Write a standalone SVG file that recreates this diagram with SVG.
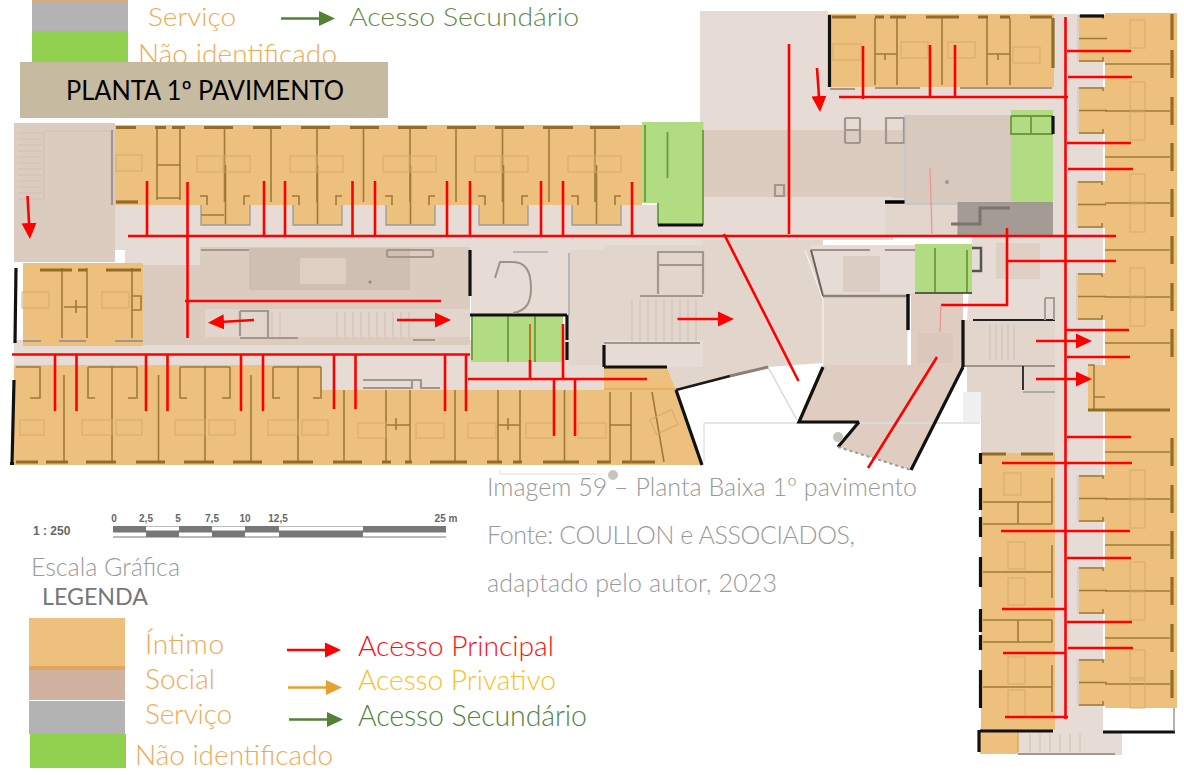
<svg xmlns="http://www.w3.org/2000/svg" xmlns:xlink="http://www.w3.org/1999/xlink" width="1184" height="775" viewBox="0 0 1184 775">
<style>
.i{fill:#edc07e}.s1{fill:#e6dcd5}.s2{fill:#e2d5cb}.s3{fill:#dccbbf}.s4{fill:#d8c9be}.g{fill:#b1dc82}
.w{stroke:#a07a38;stroke-width:1.600;fill:none}.W{stroke:#936c28;stroke-width:3.200;fill:none}.f{stroke:#d3a969;stroke-width:.9;fill:none}
.k{stroke:#111;stroke-width:3.200;fill:none}.q{stroke:#a3968c;stroke-width:2.200;fill:none}.q2{stroke:#cdc0b6;stroke-width:1;fill:none}
.gw{stroke:#6d9a3c;stroke-width:1.800;fill:none}
.r{stroke:#f00;stroke-width:2.600;fill:none}
.a{stroke:#f00;stroke-width:2.600;fill:none;marker-end:url(#mr)}
text{font-family:"Lato","Open Sans","Liberation Sans",sans-serif;font-weight:300}
.o{fill:#eeaa55;font-size:28px}.gr{fill:#999;font-size:25px}
.sc{font-family:"Liberation Sans",sans-serif;font-weight:700;font-size:10px;fill:#666}
</style>
<defs>
<marker id="mr" markerUnits="userSpaceOnUse" markerWidth="18" markerHeight="18" refX="8" refY="9" orient="auto"><path d="M0 1.500L16 9L0 16.500z" fill="#f00"/></marker>
<marker id="mo" markerUnits="userSpaceOnUse" markerWidth="18" markerHeight="18" refX="8" refY="9" orient="auto"><path d="M0 1.500L16 9L0 16.500z" fill="#e8a02f"/></marker>
<marker id="mg" markerUnits="userSpaceOnUse" markerWidth="18" markerHeight="18" refX="8" refY="9" orient="auto"><path d="M0 1.500L16 9L0 16.500z" fill="#548235"/></marker>
<g id="alc"><path class="i" d="M0 0h49v20H0z"/><path d="M0 0v20h49V0" stroke="#9a9a9a" stroke-width="1.300" fill="none"/><path class="w" d="M-1 -9h7v9M49 -9h-6v9M24.500 -40V19"/></g>
<g id="bed"><rect class="f" x="0" y="0" width="26" height="16"/><rect class="f" x="27" y="0" width="26" height="16"/></g>
<g id="vbed"><rect class="f" x="1130" y="-29" width="15" height="28"/><rect class="f" x="1130" y="1" width="15" height="28"/></g>
<g id="rw"><path class="w" d="M1105 0H1170"/><path class="W" d="M1172 -14V14" stroke-width="4"/></g>
<g id="rb"><path class="i" d="M0 0h28v47H0z"/><path class="w" d="M0 1h24v3M0 46h24v-4M0 23.500h28"/><path class="q2" d="M-1 0v47"/></g>
</defs>
<rect width="1184" height="775" fill="#fff"/>

<g id="legenda-superior">
<rect x="32" y="0" width="96" height="31" fill="#b3b3b3"/><rect x="32" y="0" width="96" height="1" fill="#e0a868"/>
<rect x="32" y="31" width="96" height="34" fill="#92d14f"/>
<text x="148" y="26" fill="#eeaa55" font-size="26" textLength="88" lengthAdjust="spacingAndGlyphs">Serviço</text>
<text x="138" y="64" class="o" textLength="199">Não identificado</text>
<text x="349" y="26" font-size="26" fill="#5f8c49" textLength="230" lengthAdjust="spacingAndGlyphs">Acesso Secundário</text>
<path d="M281 18.500H327" stroke="#548235" stroke-width="2.600" marker-end="url(#mg)"/>
<rect x="20" y="62" width="368" height="56" fill="#c6baa0"/>
<text x="66" y="100" font-size="26" fill="#000" style="font-weight:400" textLength="278" lengthAdjust="spacingAndGlyphs">PLANTA 1º PAVIMENTO</text>
</g>

<g id="planta-social">
<path class="s1" d="M700 11H828V87H1054V14H1077V732H1122V755H1018V732H1055V453H981V392H967V320L972 236H890V240H703V130H700z"/>
<rect class="s1" x="115" y="205" width="590" height="45"/>
<rect class="s1" x="125" y="245" width="80" height="22"/>
<rect class="s1" x="14" y="340" width="460" height="25"/>
<rect class="s1" x="321" y="365" width="283" height="25"/>
<rect class="s1" x="470" y="340" width="134" height="50"/>
<rect class="s1" x="1054" y="14" width="49" height="718"/>
<rect class="s3" x="14" y="123" width="101" height="139"/>
<path class="q2" d="M18 133H42M18 139H42M18 145H42M18 151H42M18 157H42M18 163H42M18 169H42M18 175H42M18 181H42M18 187H42M18 193H42M18 199H42M44 131V200M44 131H112"/>
<rect class="s3" x="143" y="265" width="60" height="80"/>
<rect class="s3" x="200" y="247" width="270" height="98"/>
<rect x="249" y="248" width="161" height="42" fill="#cfbeb2"/>
<rect x="300" y="258" width="46" height="26" fill="#dfcfc3"/>
<rect class="s2" x="205" y="309" width="265" height="28"/>
<rect class="s1" x="471" y="248" width="98" height="67"/>
<rect class="s2" x="569" y="250" width="40" height="115"/>
<path class="s2" d="M604 245H703V342H604z"/>
<rect class="s1" x="604" y="340" width="100" height="27"/>
<path class="s2" d="M703 240H823V363L768 367L676 390L667 367H703z"/>
<rect class="s3" x="703" y="130" width="202" height="68"/>
<rect class="s1" x="703" y="197" width="190" height="43"/>
<rect class="s4" x="905" y="115" width="106" height="90"/>
<rect class="s2" x="885" y="205" width="75" height="31"/>
<path class="s1" d="M810 245H915V296H823z"/>
<rect x="843" y="256" width="37" height="36" fill="#dccdc2"/>
<path d="M823 367L799 422H859L838 447L911 470L963 367V293H911V365H823z" fill="#dfcdc1"/>
<rect class="s2" x="823" y="296" width="85" height="69"/>
<rect x="918" y="333" width="35" height="30" fill="#dbc8bc"/>
<rect class="s1" x="972" y="236" width="83" height="84"/>
<rect x="996" y="243" width="44" height="36" fill="#dfd0c6"/>
<rect class="s2" x="963" y="320" width="92" height="45"/>
<rect class="s2" x="967" y="365" width="88" height="28"/>
<rect class="s2" x="981" y="392" width="74" height="61"/>
<rect x="963" y="392" width="18" height="30" fill="#f0f0f0"/>
<path d="M704 423H980" stroke="#ddd" stroke-width="1.500"/>
<path d="M704 423V462" stroke="#e4e4e4" stroke-width="1.500"/>
<path d="M768 367L797 420" stroke="#d8d8d8" stroke-width="1.500"/>
<path d="M500 470V474H597" stroke="#ddd" fill="none"/>
<rect x="1018" y="732" width="104" height="23" fill="#e6dcd5"/>
<path class="q2" d="M1030 734V752M1040 734V752M1050 734V752M1060 734V752M1070 734V752M1080 734V752"/>
<path class="q" d="M1018 754H1115"/>
</g>

<g id="planta-intimo">
<path class="i" d="M115 125H642V205H115z"/>
<use xlink:href="#alc" x="201" y="205"/><use xlink:href="#alc" x="293" y="205"/><use xlink:href="#alc" x="386" y="205"/><use xlink:href="#alc" x="479" y="205"/><use xlink:href="#alc" x="572" y="205"/>
<rect class="i" x="23" y="263" width="120" height="83"/>
<path class="i" d="M14 365H321V390H604V367H667L676 390L702 465H14z"/>
<rect class="i" x="828" y="14" width="226" height="73"/>
<rect class="i" x="1105" y="13" width="72" height="695"/>
<use xlink:href="#rb" x="1079" y="15"/><use xlink:href="#rb" x="1079" y="87"/><use xlink:href="#rb" x="1078" y="181"/><use xlink:href="#rb" x="1078" y="273"/><use xlink:href="#rb" x="1079" y="475"/><use xlink:href="#rb" x="1079" y="567"/><use xlink:href="#rb" x="1079" y="659"/>
<path class="i" d="M1088 365H1107V410H1088z"/>
<path class="w" d="M1088 365h6v45h-6M1094 397h11M1088 410h20"/>
<rect class="i" x="981" y="453" width="74" height="277"/>
<rect class="i" x="980" y="730" width="38" height="24"/>
<path d="M980 730H1018V752" stroke="#e0a85a" stroke-width="1.500" fill="none"/>
<path class="k" d="M979 730V752" stroke-width="2.500"/>

<path class="w" d="M224.500 128V202M271 128V202M317 128V202M363.500 128V202M410 128V202M456 128V202M502.500 128V202M549 128V202M595 128V202M157 128V200M180 128V200M157 165H180M157 198H180M201 215H224"/>
<path class="W" d="M116 127.500h20M155 127.500h11M172 127.500h13M204 127.500h29M253 127.500h28M301 127.500h29M350 127.500h29M398 127.500h29M447 127.500h29M495 127.500h29M543 127.500h30M590 127.500h30"/>
<path class="W" d="M116 202h22" stroke-width="2.500"/>
<path class="q" d="M112 130V205" stroke-width="4" stroke="#9b8a7e"/>
<use xlink:href="#bed" x="197" y="156"/><use xlink:href="#bed" x="290" y="156"/><use xlink:href="#bed" x="383" y="156"/><use xlink:href="#bed" x="475" y="156"/><use xlink:href="#bed" x="568" y="156"/>
<rect class="f" x="116" y="155" width="26" height="16"/>
<path class="w" d="M62 268V338M87 268V338M132 268V338M64 307H87M76 300V313M132 296h9v14h-9"/>
<path class="W" d="M40 270h32M78 270h9M106 270h35"/>
<path class="q" d="M23 341h18M59 341h27M115 341h28" stroke-width="2"/>
<rect class="f" x="22" y="292" width="27" height="16"/><rect class="f" x="102" y="292" width="27" height="16"/>
<path class="k" d="M16 268L15 343" stroke-width="3.500"/>

<path class="w" d="M64 375V463M112 366V463M158.500 375V463M205 366V463M251 375V463M298 366V463M344 390V463M386 390V463M410 390V463M455 390V463M498 390V463M520 390V463M564.500 390V463M386 425H410M498 425H520M396 418V430M508 418V430"/>
<path class="w" d="M16 367H40V398H30M88 367H112M88 367V398H95M137 367H112M137 367V398H128M180 367H205M180 367V398H187M230 367H205M230 367V398H222M273 367H298M273 367V398H280M321 367H298M321 367V398H313"/>
<path class="W" d="M16 462H38M46 462H68M86 462H116M136 462H165M184 462H214M233 462H262M283 462H313M333 462H362M382 462H391M405 462H412M430 462H467M487 462H502M513 462H522M543 462H579M597 462H611M622 462H655"/>
<rect class="f" x="20" y="420" width="24" height="15"/><rect class="f" x="82" y="420" width="30" height="15"/><rect class="f" x="116" y="420" width="26" height="15"/><rect class="f" x="175" y="420" width="30" height="15"/><rect class="f" x="209" y="420" width="26" height="15"/><rect class="f" x="268" y="420" width="30" height="15"/><rect class="f" x="302" y="420" width="26" height="15"/><rect class="f" x="358" y="423" width="28" height="15"/><rect class="f" x="416" y="423" width="28" height="15"/><rect class="f" x="468" y="423" width="28" height="15"/><rect class="f" x="526" y="423" width="28" height="15"/><rect class="f" x="578" y="423" width="28" height="15"/>
<path class="w" d="M610 392V463M631 392V463M610 425H631M652 392L664 462"/>
<rect class="f" x="652" y="414" width="24" height="16" transform="rotate(-25 664 422)"/>
<path d="M604 389H676" stroke="#e0a040" stroke-width="1"/>
<path class="k" d="M14 380L12 465M10 463.500H14" stroke-width="3.500"/>

<path class="w" d="M875 18V85M897 18V85M942 18V85M987 18V85M1010 18V85M875 54H897M987 54H1010M885 54V60M998 54V60"/>
<path class="W" d="M1053 18V68M832 17h24M875 17h9M890 17h16M926 17h33M978 17h10M1000 17h10M1030 17h22"/>
<path class="q" d="M830 89H855M875 88H920M960 88H1052" stroke="#cfc0b2"/>
<path class="k" d="M829.500 15V87"/>
<rect class="f" x="833" y="44" width="28" height="16"/><rect class="f" x="901" y="42" width="27" height="16"/><rect class="f" x="948" y="42" width="27" height="16"/><rect class="f" x="1013" y="47" width="27" height="16"/>

<use xlink:href="#rw" y="64"/><use xlink:href="#rw" y="111"/><use xlink:href="#rw" y="157"/><use xlink:href="#rw" y="203"/><use xlink:href="#rw" y="250"/><use xlink:href="#rw" y="297"/><use xlink:href="#rw" y="343"/><use xlink:href="#rw" y="452"/><use xlink:href="#rw" y="499"/><use xlink:href="#rw" y="545"/><use xlink:href="#rw" y="591"/><use xlink:href="#rw" y="638"/><use xlink:href="#rw" y="684"/>
<use xlink:href="#vbed" y="111"/><use xlink:href="#vbed" y="203"/><use xlink:href="#vbed" y="297"/><use xlink:href="#vbed" y="499"/><use xlink:href="#vbed" y="591"/><use xlink:href="#vbed" y="679"/>
<rect class="f" x="1130" y="20" width="15" height="28"/>
<path class="W" d="M1088 410H1170M1172 14V40"/>
<path class="k" d="M1080 16H1104" stroke-width="2.500"/>
<path class="k" d="M1103 732H1175" stroke-width="2.500"/>
<path d="M1174 708V732" stroke="#666" stroke-width="1"/>

<path class="w" d="M983 502H1052M983 524H1052M983 572H1052M983 620H1052M983 642H1052M983 687H1052M1018 502V524M1018 620V642M1052 478V524M1052 545V598M1052 620V642M1052 665V712"/>
<path class="W" d="M982 454h24M1021 454h32"/>
<path class="k" d="M980.500 453V464M980.500 488V510M980.500 517V537M980.500 557V587M980.500 609V632M980.500 635V650M980.500 670V708M980 731H1053" stroke-width="2.500"/>
<rect class="f" x="1004" y="473" width="17" height="22"/><rect class="f" x="1008" y="542" width="17" height="27"/><rect class="f" x="1008" y="578" width="17" height="27"/><rect class="f" x="1008" y="657" width="17" height="27"/><rect class="f" x="1008" y="690" width="17" height="27"/>
</g>

<g id="planta-verde">
<rect class="g" x="642" y="122" width="61.500" height="81"/>
<rect class="g" x="658" y="200" width="45" height="25"/>
<path class="gw" d="M667.500 132V178M703 130V225M645 125V202M658 203V225" stroke-width="1.400"/>
<path class="k" d="M658 225H703" stroke-width="1.500"/>
<rect class="g" x="1011" y="110" width="42" height="95"/>
<path class="gw" d="M1011 116V134H1053M1031 116V134M1011 116H1053" stroke-width="2.500"/>
<path class="k" d="M1053 116V134" stroke-width="1.800"/>
<rect class="g" x="471" y="315" width="92" height="47"/>
<path class="gw" d="M508 315V362M535 315V362M472 315V360" stroke-width="1.300"/>
<path class="k" d="M470 315H567M567 315V340M567 342V360" stroke-width="1.500"/>
<rect class="g" x="915" y="244" width="57" height="49"/>
<path class="gw" d="M935 248V292M967 250V292" stroke-width="1.500"/>
<path d="M972 248H981V271H972" stroke="#555" stroke-width="2.500" fill="none"/>
<path d="M972 293H915" stroke="#333" stroke-width="1.500"/>
<rect x="957.500" y="202" width="95.500" height="34" fill="#9f9690" fill-opacity=".93"/>
<path d="M951 224H980V208H1010" stroke="#7c736d" stroke-width="3" fill="none"/>
</g>

<g id="planta-nucleo">
<path class="q" d="M201 250H249M387 250H433M387 257H433M387 250V257M433 250V257"/>
<path class="q" d="M240 311H268V338M240 311V336M240 338H298M413 340H435"/>
<path class="q2" d="M272 312V337M280 312V337M337 312V337M345 312V337M353 312V337M361 312V337M369 312V337M377 312V337M385 312V337M393 312V337M401 312V337M409 312V337"/>
<path class="k" d="M470 250V296" stroke-width="1.500"/>
<path d="M495 278L500 262H513C527 262 531 273 531 288C531 303 526 311 513 313" stroke="#9d938b" stroke-width="2" fill="none"/>
<path d="M513 252H548M569 253V315" stroke="#aaa" stroke-width="1.500" fill="none"/>
<path class="q" d="M363 380H412M363 388H412V380H421V388H440" stroke-width="1.500"/>
<path class="q" d="M658 268V252H703V268M658 265H703M658 294V267M703 294V267M640 296H703" stroke-width="2"/>
<path class="q2" d="M632 300V342M640 300V342M648 300V342M656 300V342M664 300V342M672 300V342M680 300V342M688 300V342M696 300V342"/>
<path class="q" d="M604 343H700" stroke-width="2"/>
<path class="k" d="M604 345V367" stroke-width="1.500"/>
<path class="k" d="M604 367H667" stroke-width="1.500"/>
<path class="q" d="M845 118H860M845 143H860M845 118V143M860 118V143M845 130H860M886 118H904V143H886zM775 185H784V196H775z" stroke-width="2.400"/>
<path d="M885 202H905" stroke="#000" stroke-width="3.500"/>
<path d="M905 115V204H957" stroke="#b9c3cc" stroke-width="1" fill="none"/>
<circle cx="947" cy="182" r="2" fill="#999"/><circle cx="370" cy="282" r="1.500" fill="#888"/>
<path d="M811 250H870M885 250H915" stroke="#9d938b" stroke-width="2" fill="none"/>
<path d="M811 250L823 296" stroke="#6b625c" stroke-width="2" fill="none"/>
<path d="M805 250L823 300V365" stroke="#fff" stroke-width="1" fill="none" opacity=".8"/>
<path d="M823 296H909" stroke="#8b8179" stroke-width="2.500" fill="none"/>
<path d="M908 294V330" stroke="#111" stroke-width="3.500"/>
<path d="M908 332V365" stroke="#fff" stroke-width="1.200"/>
<path d="M973 320H1055" stroke="#222" stroke-width="1.800"/>
<path d="M1045 298H1054V320M1045 320V298" stroke="#a89d95" stroke-width="2" fill="none"/>
<path class="q2" d="M990 325V360M996 325V360M1002 325V360M1008 325V360M1014 325V360"/>
<path d="M964 366H1055" stroke="#9d938b" stroke-width="2"/>
<path d="M1023 366V390" stroke="#222" stroke-width="1.800"/>
<path d="M1023 392H1055" stroke="#aaa" stroke-width="2"/>
<path class="k" d="M823 367L799 422H859M859 422L838 447"/>
<path class="k" d="M911 470L963 367"/>
<path class="k" d="M963 320V367" stroke-width="1.800"/>
<path d="M838 447L911 470" stroke="#999" stroke-width="2" stroke-dasharray="3 3"/>
<path class="k" d="M676 390L702 465"/>
<path d="M676 390L730 376" stroke="#1a1a1a" stroke-width="2.600"/>
<path d="M730 376L768 367" stroke="#8b7f76" stroke-width="3"/>
<circle cx="613" cy="475" r="5" fill="#c4c5bb"/><circle cx="838" cy="437" r="5" fill="#c4c5bb"/>
</g>

<g id="connectors">
<path class="r" d="M128 236H1116M147 181V236M264 181V236M285 181V236M352.500 181V236M375 181V236M447 181V236M470 181V236M541 181V236M563 181V236M632 182V236M187.500 182V338M185 301H441M789 44V234"/>
<path class="r" d="M12 354.500H470M55 354V411M76.500 354V411M146 354V411M167.500 354V411M241 354V411M263 354V411M334 354V409M355.500 354V409M445 354V411M466 354V411M468 379H647M554 379V436M575 379V436M563 324V379"/>
<path d="M530 324V379" stroke="#c0731d" stroke-width="2"/><path class="r" d="M530 360V379"/>
<path class="r" d="M839 97H1068M863 46V99M930 45V97M955 45V97M1065.500 17V719"/>
<path class="r" d="M1067 51H1131M1068 77H1132M1067 143H1131M1068 169H1133M1065 330H1129M1067 357H1130M1067 437H1131M1002 463H1132M1001 531H1130M1067 558H1131M1002 609H1066M1067 622H1132M1003 653H1066M1068 648H1133M1005 717H1068"/>
<path class="r" d="M1007 228V305H941M1007 261H1116"/>
<path d="M941 305L940 332" stroke="#f0908a" stroke-width="1.200"/>
<path d="M930 168L932 234" stroke="#f0908a" stroke-width="1.200"/>
<path class="r" d="M724 234L798.500 381M937 357L868 468"/>
<path class="a" d="M27.500 196L29.500 231"/>
<path class="a" d="M817 68L819.500 104"/>
<path class="a" d="M254 320L216 322.300"/>
<path class="a" d="M397 320H443"/>
<path class="a" d="M677.500 319H726"/>
<path class="a" d="M1036 341H1084"/>
<path class="a" d="M1036 379H1084"/>
</g>

<g id="escala">
<text class="sc" x="33" y="535" style="font-size:12px">1 : 250</text>
<text class="sc" x="114" y="522" text-anchor="middle">0</text><text class="sc" x="146" y="522" text-anchor="middle">2,5</text><text class="sc" x="178" y="522" text-anchor="middle">5</text><text class="sc" x="212" y="522" text-anchor="middle">7,5</text><text class="sc" x="245" y="522" text-anchor="middle">10</text><text class="sc" x="278" y="522" text-anchor="middle">12,5</text><text class="sc" x="446" y="522" text-anchor="middle">25 m</text>
<rect x="113" y="526" width="333" height="11.500" fill="#777"/>
<path d="M146 528.500H179M212 528.500H245M279 528.500H363M113 534.500H146M179 534.500H212M245 534.500H279M363 534.500H446" stroke="#fff" stroke-width="4"/>
<text x="31" y="576" font-size="25" fill="#999" textLength="149">Escala Gráfica</text>
</g>

<g id="legenda">
<text x="42" y="605" font-size="24" fill="#777" style="font-weight:400" textLength="106" lengthAdjust="spacingAndGlyphs">LEGENDA</text>
<rect x="29" y="618" width="96" height="48" fill="#edc07e"/><rect x="29" y="666" width="96" height="4" fill="#dfa85f"/>
<rect x="29" y="670" width="96" height="30" fill="#cfb3a0"/>
<rect x="29" y="701" width="96" height="33" fill="#b3b3b3"/>
<rect x="30" y="734" width="96" height="34" fill="#92d14f"/>
<text x="145" y="654" class="o" textLength="79">Íntimo</text><text x="145" y="689" class="o" textLength="70">Social</text><text x="145" y="724" class="o" textLength="87">Serviço</text><text x="135" y="765" class="o" textLength="198">Não identificado</text>
<path d="M287 650H333" stroke="#f00" stroke-width="2.600" marker-end="url(#mr)"/>
<path d="M288 687.500H334" stroke="#e8a02f" stroke-width="2.600" marker-end="url(#mo)"/>
<path d="M289 719.500H335" stroke="#548235" stroke-width="2.600" marker-end="url(#mg)"/>
<text x="358" y="656" font-size="28.300" fill="#ff1010" textLength="196">Acesso Principal</text>
<text x="358" y="690" font-size="28.300" fill="#fcc026" textLength="198">Acesso Privativo</text>
<text x="358" y="726" font-size="28.500" fill="#558343" textLength="229">Acesso Secundário</text>
</g>

<g id="legenda-imagem">
<text x="487" y="496" class="gr" textLength="430">Imagem 59 – Planta Baixa 1º pavimento</text>
<text x="487" y="544" class="gr" textLength="368">Fonte: COULLON e ASSOCIADOS,</text>
<text x="487" y="592" class="gr" textLength="290">adaptado pelo autor, 2023</text>
</g>
</svg>
